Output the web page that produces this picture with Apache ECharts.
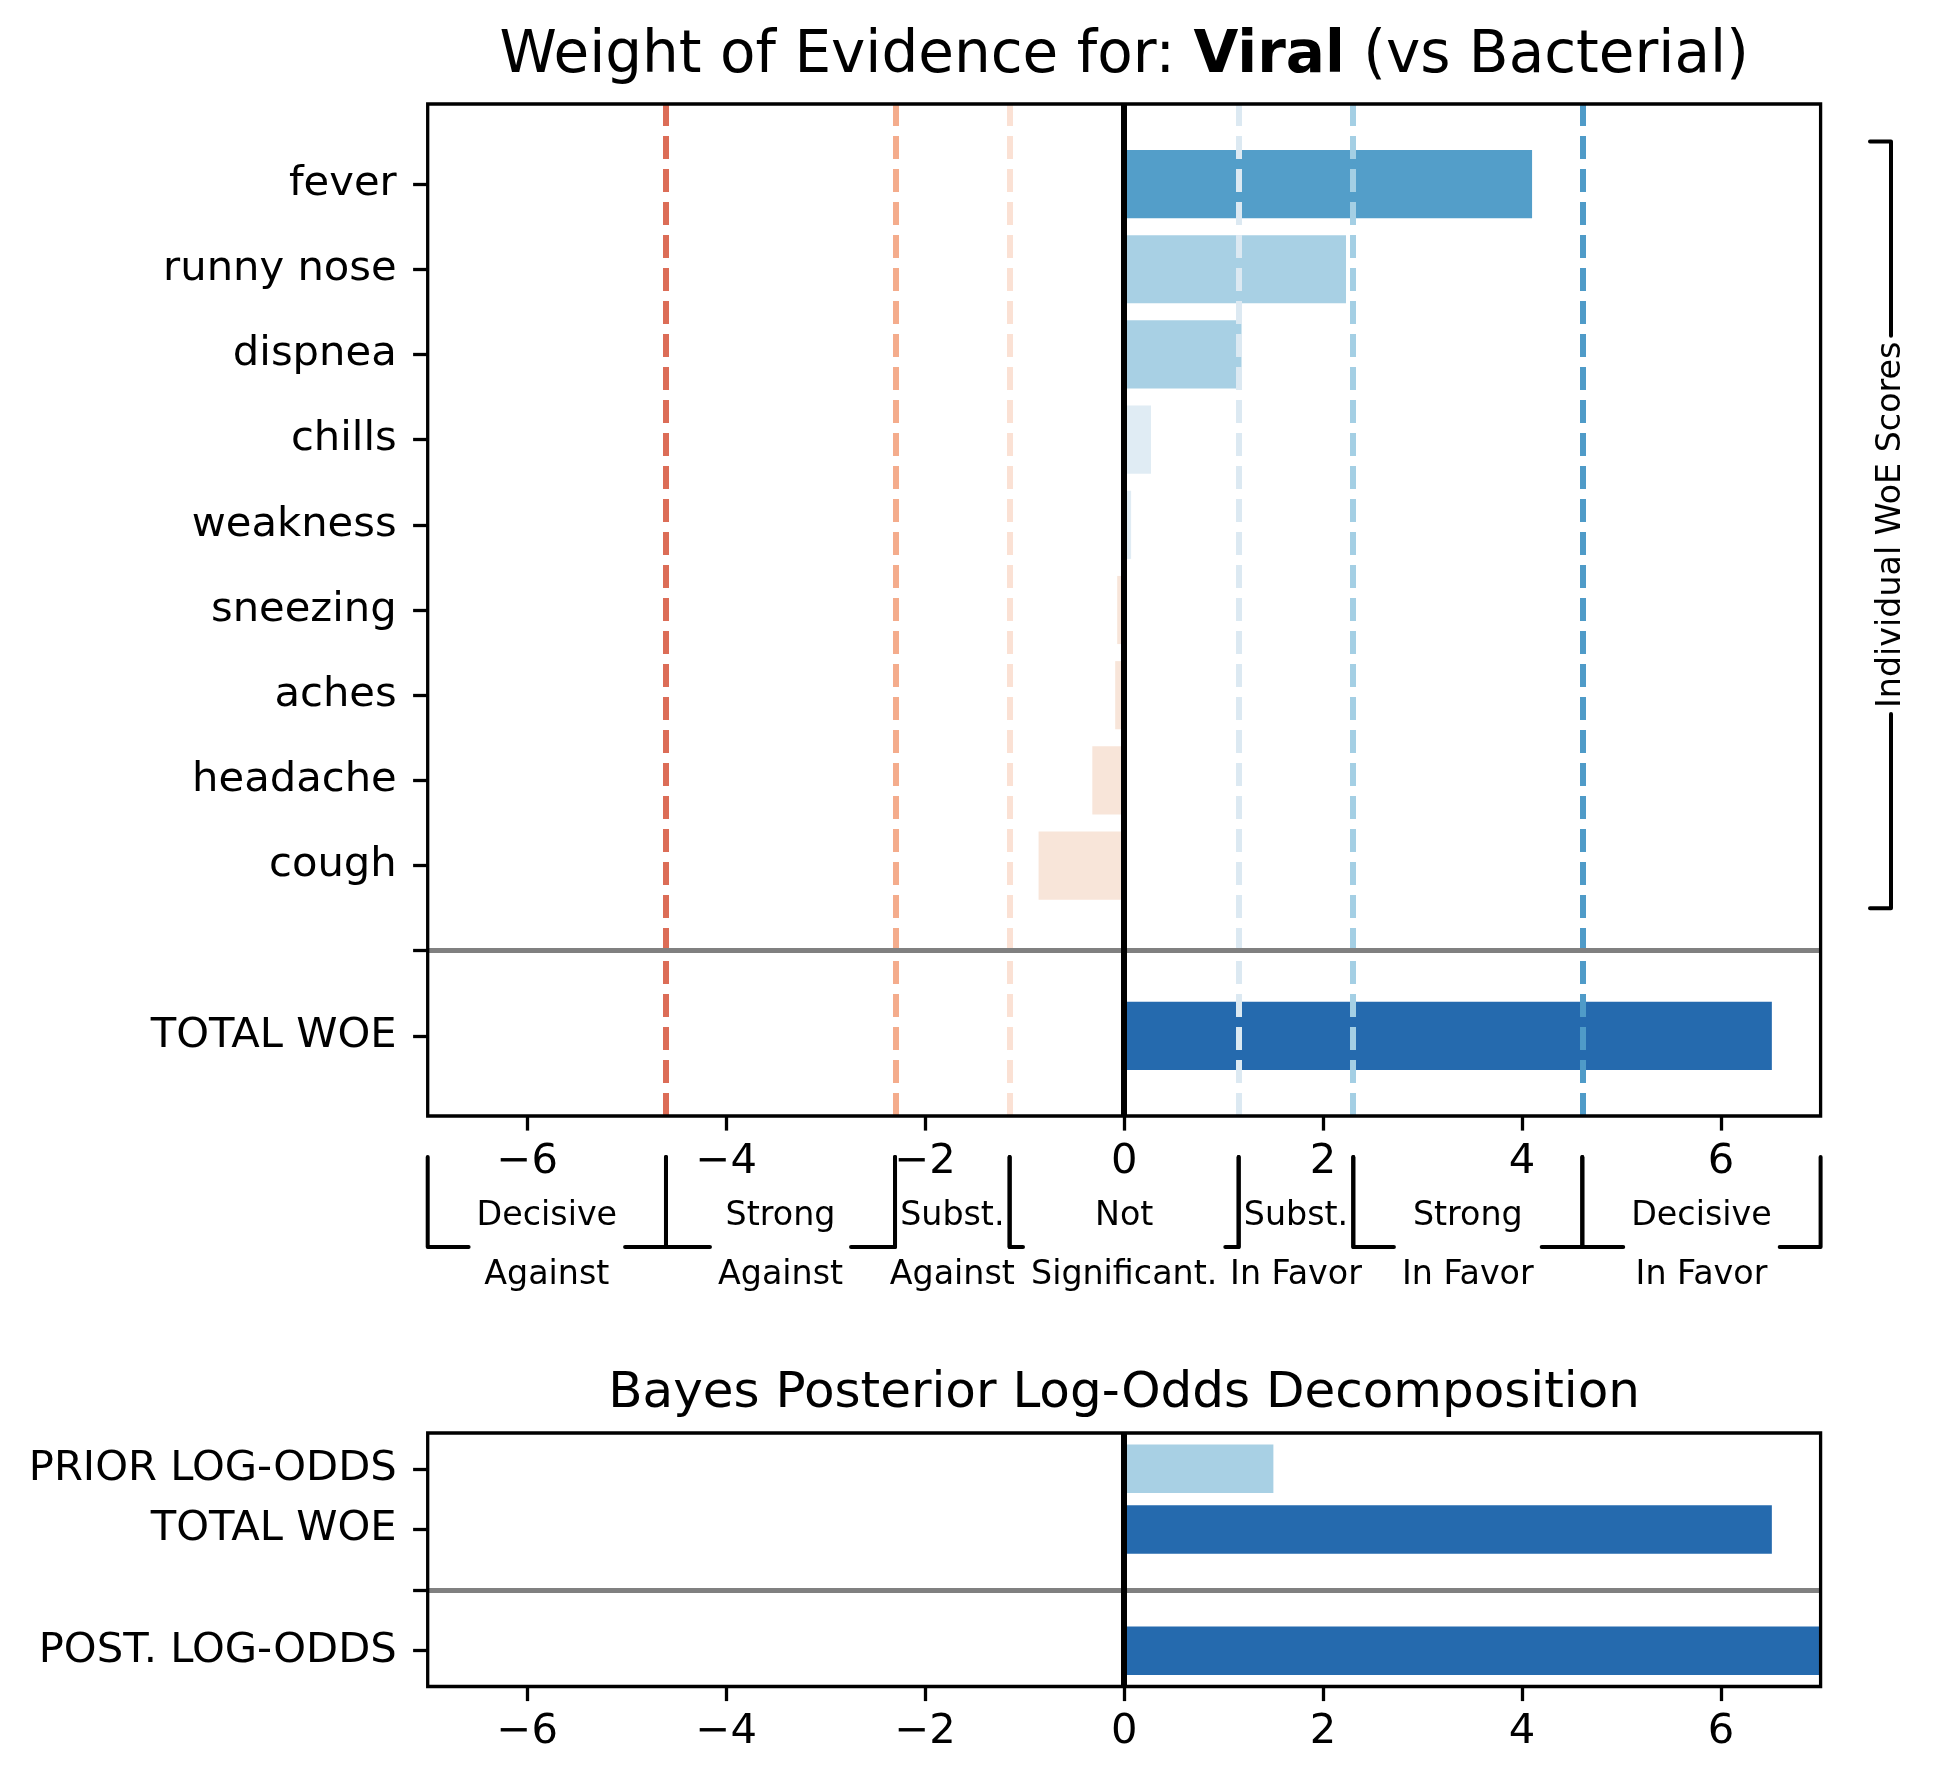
<!DOCTYPE html>
<html>
<head>
<meta charset="utf-8">
<script src="https://cdn.jsdelivr.net/npm/echarts@6/dist/echarts.min.js"></script>
<style>
  html, body { margin: 0; padding: 0; background: #fff; }
  #chart { width: 1938px; height: 1786px; }
</style>
</head>
<body>
<div id="chart"></div>
<script>
// 特征与 WoE 分数（从上到下）
const features = ['fever', 'runny nose', 'dispnea', 'chills', 'weakness', 'sneezing', 'aches', 'headache', 'cough'];
const woeScores = [4.10, 2.23, 1.18, 0.27, 0.07, -0.07, -0.09, -0.32, -0.86];
const featureColors = ['#539ec9', '#a8d0e4', '#a8d0e4', '#e0ecf4', '#e0ecf4', '#f8e5d9', '#f8e5d9', '#f8e5d9', '#f8e5d9'];
const totalWoe = 6.51;
const priorLogOdds = 1.50;
const postLogOdds = 8.01;

// 证据强度阈值
const thresholds = [-4.605, -2.303, -1.151, 1.151, 2.303, 4.605];
const thresholdColors = ['#dc6d57', '#f4ac8c', '#fbe1d4', '#dce9f2', '#a4cfe4', '#4f9bc8'];
const bandLabels = [
  ['Decisive', 'Against'], ['Strong', 'Against'], ['Subst.', 'Against'],
  ['Not', 'Significant.'],
  ['Subst.', 'In Favor'], ['Strong', 'In Favor'], ['Decisive', 'In Favor']
];
const xTicks = [-6, -4, -2, 0, 2, 4, 6];

const FONT = 'DejaVu Sans';
const chartDom = document.getElementById('chart');
const myChart = echarts.init(chartDom);

// y 轴标签：0 为 TOTAL，1 为分隔线，2..10 为特征（cough 在下，fever 在上）
const topLabels = ['TOTAL WOE', ''].concat(features.slice().reverse());
const bottomLabels = ['POST. LOG-ODDS', '', 'TOTAL WOE', 'PRIOR LOG-ODDS'];

const topBars = features.map((f, i) => ({
  value: [woeScores[i], 10 - i],
  itemStyle: { color: featureColors[i] }
}));
topBars.push({ value: [totalWoe, 0], itemStyle: { color: '#256aae' } });

const bottomBars = [
  { value: [priorLogOdds, 3], itemStyle: { color: '#a8d0e4' } },
  { value: [totalWoe, 2], itemStyle: { color: '#256aae' } },
  { value: [postLogOdds, 0], itemStyle: { color: '#256aae' } }
];

function renderBar(params, api) {
  const v = api.value(0), y = api.value(1);
  const p0 = api.coord([0, y]);
  const p1 = api.coord([v, y]);
  const h = api.size([0, 0.8])[1];
  const cs = params.coordSys;
  const shape = echarts.graphic.clipRectByRect(
    { x: Math.min(p0[0], p1[0]), y: p0[1] - h / 2, width: Math.abs(p1[0] - p0[0]), height: h },
    { x: cs.x, y: cs.y, width: cs.width, height: cs.height }
  );
  return shape && { type: 'rect', shape: shape, style: { fill: api.visual('color') } };
}

const fmtX = v => (v < 0 ? '\u2212' + Math.abs(v) : String(v));

function xAxisOf(gridIndex) {
  return {
    type: 'value', gridIndex: gridIndex, min: -7, max: 7, position: 'bottom',
    axisLine: { show: false, onZero: false },
    splitLine: { show: false },
    axisTick: { show: true, length: 14.6, lineStyle: { color: '#000', width: 3.3 }, customValues: xTicks },
    axisLabel: { customValues: xTicks, formatter: fmtX, fontSize: 41.7, fontFamily: FONT, color: '#000', margin: 25 }
  };
}
function yAxisOf(gridIndex, min, max, labels) {
  const vals = labels.map((l, i) => i);
  return {
    type: 'value', gridIndex: gridIndex, min: min, max: max, position: 'left',
    axisLine: { show: false, onZero: false },
    splitLine: { show: false },
    axisTick: { show: true, length: 14.6, lineStyle: { color: '#000', width: 3.3 }, customValues: vals },
    axisLabel: { customValues: vals, formatter: v => labels[Math.round(v)] || '', fontSize: 41.7, fontFamily: FONT, color: '#000', margin: 31 }
  };
}

const option = {
  animation: false,
  backgroundColor: '#fff',
  grid: [
    { left: 427.7, right: 117.4, top: 104, height: 1012, show: true, borderColor: '#000', borderWidth: 3.3, z: 10 },
    { left: 427.7, right: 117.4, top: 1433, height: 253.5, show: true, borderColor: '#000', borderWidth: 3.3, z: 10 }
  ],
  xAxis: [xAxisOf(0), xAxisOf(1)],
  yAxis: [yAxisOf(0, -0.94, 10.94, topLabels), yAxisOf(1, -0.59, 3.59, bottomLabels)],
  series: [
    { type: 'custom', xAxisIndex: 0, yAxisIndex: 0, renderItem: renderBar, data: topBars, z: 2, silent: true },
    { type: 'custom', xAxisIndex: 1, yAxisIndex: 1, renderItem: renderBar, data: bottomBars, z: 2, silent: true },
    {
      type: 'line', xAxisIndex: 0, yAxisIndex: 0, data: [], z: 3, silent: true,
      markLine: {
        symbol: 'none', silent: true, label: { show: false }, animation: false,
        data: thresholds.map((t, i) => ({ xAxis: t, lineStyle: { color: thresholdColors[i], width: 6, type: [23, 10] } }))
          .concat([{ yAxis: 1, lineStyle: { color: '#808080', width: 5, type: 'solid' } }])
      }
    },
    {
      type: 'line', xAxisIndex: 0, yAxisIndex: 0, data: [], z: 4, silent: true,
      markLine: { symbol: 'none', silent: true, label: { show: false }, animation: false,
        data: [{ xAxis: 0, lineStyle: { color: '#000', width: 6, type: 'solid' } }] }
    },
    {
      type: 'line', xAxisIndex: 1, yAxisIndex: 1, data: [], z: 4, silent: true,
      markLine: { symbol: 'none', silent: true, label: { show: false }, animation: false,
        data: [
          { yAxis: 1, lineStyle: { color: '#808080', width: 5, type: 'solid' } },
          { xAxis: 0, lineStyle: { color: '#000', width: 6, type: 'solid' } }
        ] }
    }
  ]
};
myChart.setOption(option);

// 括号与文字（位置由坐标轴换算）
const ctx = document.createElement('canvas').getContext('2d');
ctx.font = '33.3px "' + FONT + '"';
const textW = s => ctx.measureText(s).width;
const toTop = (x, y) => myChart.convertToPixel({ gridIndex: 0 }, [x, y]);

const graphics = [];
const lineStyle = { stroke: '#000', lineWidth: 4, fill: null, lineJoin: 'round', lineCap: 'round' };
const edges = [-7].concat(thresholds, [7]);
const yTopB = 1157, yLineB = 1247;
bandLabels.forEach((lab, i) => {
  const xa = toTop(edges[i], 0)[0], xb = toTop(edges[i + 1], 0)[0];
  const xm = (xa + xb) / 2;
  const half = Math.max(textW(lab[0]), textW(lab[1])) / 2 + 8;
  graphics.push({ type: 'polyline', shape: { points: [[xa, yTopB], [xa, yLineB], [Math.max(xa, xm - half), yLineB]] }, style: lineStyle, z: 20 });
  graphics.push({ type: 'polyline', shape: { points: [[xb, yTopB], [xb, yLineB], [Math.min(xb, xm + half), yLineB]] }, style: lineStyle, z: 20 });
  graphics.push({ type: 'text', x: xm, y: 1216, style: { text: lab[0], fontSize: 33.3, fontFamily: FONT, fill: '#000', align: 'center', verticalAlign: 'middle' }, z: 21 });
  graphics.push({ type: 'text', x: xm, y: 1275, style: { text: lab[1], fontSize: 33.3, fontFamily: FONT, fill: '#000', align: 'center', verticalAlign: 'middle' }, z: 21 });
});

// 右侧括号
const rx = 1891, rFoot = 1870;
const ryTop = toTop(0, 10.5)[1], ryBot = toTop(0, 1.5)[1], ryMid = toTop(0, 6)[1];
const rText = 'Individual WoE Scores';
const rHalf = textW(rText) / 2 + 6;
graphics.push({ type: 'polyline', shape: { points: [[rFoot, ryTop], [rx, ryTop], [rx, ryMid - rHalf]] }, style: lineStyle, z: 20 });
graphics.push({ type: 'polyline', shape: { points: [[rFoot, ryBot], [rx, ryBot], [rx, ryMid + rHalf]] }, style: lineStyle, z: 20 });
graphics.push({ type: 'text', x: rx, y: ryMid, rotation: Math.PI / 2, style: { text: rText, fontSize: 33.3, fontFamily: FONT, fill: '#000', align: 'center', verticalAlign: 'middle' }, z: 21 });

// 标题
const cx = toTop(0, 0)[0];
graphics.push({
  type: 'text', x: cx, y: 57,
  style: {
    text: '{n|Weight of Evidence for: }{b|Viral}{n| (vs Bacterial)}',
    rich: {
      n: { fontSize: 58, fontFamily: FONT, fill: '#000', color: '#000' },
      b: { fontSize: 58, fontFamily: FONT, fontWeight: 'bold', fill: '#000', color: '#000' }
    },
    align: 'center', verticalAlign: 'middle'
  }, z: 21
});
graphics.push({
  type: 'text', x: cx, y: 1394,
  style: { text: 'Bayes Posterior Log-Odds Decomposition', fontSize: 50, fontFamily: FONT, fill: '#000', align: 'center', verticalAlign: 'middle' }, z: 21
});

myChart.setOption({ graphic: { elements: graphics } });
</script>
</body>
</html>
